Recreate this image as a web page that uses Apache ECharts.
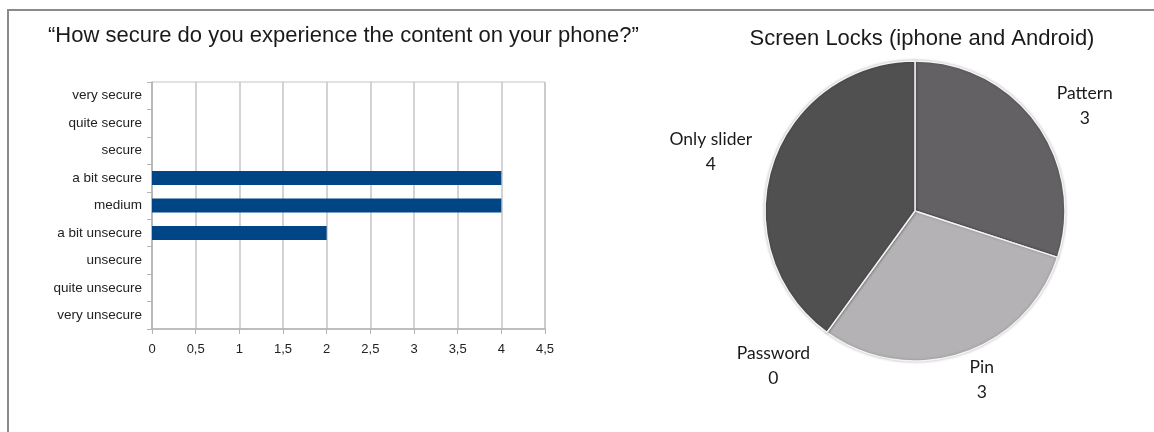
<!DOCTYPE html>
<html>
<head>
<meta charset="utf-8">
<script src="https://cdn.jsdelivr.net/npm/echarts@6/dist/echarts.min.js"></script>
<style>
  html, body { margin: 0; padding: 0; background: #fff; }
  #chart { width: 1154px; height: 432px; }
</style>
</head>
<body>
<div id="chart"></div>
<script>
// 左图：安全感问卷（自下而上）
const secureLevels = [
  'very unsecure', 'quite unsecure', 'unsecure', 'a bit unsecure',
  'medium', 'a bit secure', 'secure', 'quite secure', 'very secure',
];
const secureCounts = [0, 0, 0, 2, 4, 4, 0, 0, 0];
const xTicks = [0, 0.5, 1, 1.5, 2, 2.5, 3, 3.5, 4, 4.5];

// 右图：锁屏方式（从 12 点钟顺时针）
const lockNames = ['Pattern', 'Pin', 'Password', 'Only slider'];
const lockCounts = [3, 3, 0, 4];
const lockColors = ['#636164', '#b4b2b5', '#8a8a8a', '#505050'];

const leftTitle = '\u201cHow secure do you experience the content on your phone?\u201d';
const pieTitle = 'Screen Locks (iphone and Android)';

const PIE_CX = 915;
const PIE_CY = 211;
const PIE_R = 150;
const LABEL_R = 200;
// Excel 的 best-fit 标签并不严格在中线上，这里做少量微调
const LABEL_NUDGE = [[8, 12], [5, -21], [-24, -7], [-14, 3]];

const chart = echarts.init(document.getElementById('chart'), null, { renderer: 'canvas' });

const lockTotal = lockCounts.reduce((a, b) => a + b, 0);

// 标签放在扇区中线方向，居中对齐
function pieLabelPos(idx) {
  let before = 0;
  for (let i = 0; i < idx; i++) before += lockCounts[i];
  const mid = (before + lockCounts[idx] / 2) / lockTotal * Math.PI * 2;
  const nudge = LABEL_NUDGE[idx] || [0, 0];
  return {
    x: PIE_CX + Math.sin(mid) * LABEL_R + nudge[0],
    y: PIE_CY - Math.cos(mid) * LABEL_R + nudge[1],
  };
}

const option = {
  animation: false,
  backgroundColor: '#ffffff',
  textStyle: { fontFamily: 'Liberation Sans, Arial, sans-serif' },
  graphic: [
    {
      type: 'rect',
      shape: { x: 8, y: 10, width: 1160, height: 440 },
      style: { fill: 'none', stroke: '#8a8a8a', lineWidth: 2 },
      silent: true,
    },
    {
      type: 'text',
      x: 48,
      y: 36,
      style: {
        text: leftTitle,
        font: '22px "Liberation Sans", Arial, sans-serif',
        fill: '#1a1a1a',
        verticalAlign: 'middle',
      },
    },
    {
      type: 'text',
      x: 922,
      y: 39,
      style: {
        text: pieTitle,
        font: '22px "Liberation Sans", Arial, sans-serif',
        fill: '#1a1a1a',
        align: 'center',
        verticalAlign: 'middle',
      },
    },
  ],
  grid: {
    left: 152,
    top: 82,
    width: 393,
    height: 247,
    show: true,
    borderColor: '#c4c4c4',
    borderWidth: 1,
    containLabel: false,
  },
  xAxis: {
    type: 'value',
    min: xTicks[0],
    max: xTicks[xTicks.length - 1],
    interval: 0.5,
    axisLine: { show: true, lineStyle: { color: '#b3b3b3', width: 1.5 } },
    axisTick: { show: true, length: 5, lineStyle: { color: '#b3b3b3' } },
    splitLine: { show: true, lineStyle: { color: '#c4c4c4', width: 1.5 } },
    axisLabel: {
      color: '#222',
      fontSize: 13,
      margin: 14,
      formatter: (v) => String(v).replace('.', ','),
    },
  },
  yAxis: {
    type: 'category',
    data: secureLevels,
    boundaryGap: true,
    axisLine: { show: true, lineStyle: { color: '#b3b3b3', width: 1.5 } },
    axisTick: { show: true, length: 5, interval: 0, lineStyle: { color: '#b3b3b3' } },
    splitLine: { show: false },
    axisLabel: { color: '#222', fontSize: 13.5, margin: 10, interval: 0 },
  },
  series: [
    {
      type: 'bar',
      data: secureCounts,
      barWidth: 14,
      itemStyle: { color: '#004586' },
      silent: true,
    },
    {
      type: 'pie',
      center: [PIE_CX, PIE_CY],
      radius: PIE_R,
      startAngle: 90,
      clockwise: true,
      avoidLabelOverlap: false,
      silent: true,
      data: lockNames.map((name, i) => ({
        name,
        value: lockCounts[i],
        itemStyle: { color: lockColors[i] },
      })),
      itemStyle: {
        borderColor: '#f4f4f4',
        borderWidth: 1.5,
        shadowBlur: 3,
        shadowColor: 'rgba(0,0,0,0.25)',
      },
      label: {
        show: true,
        position: 'outside',
        formatter: '{n|{b}}\n{n|{c}}',
        rich: {
          n: {
            fontFamily: 'Lato, "Open Sans", sans-serif',
            fontSize: 17.5,
            lineHeight: 25,
            color: '#1a1a1a',
            align: 'center',
          },
        },
      },
      labelLine: { show: false },
      labelLayout: (params) => {
        const p = pieLabelPos(params.dataIndex);
        return { x: p.x, y: p.y, align: 'center', verticalAlign: 'middle' };
      },
    },
  ],
};

chart.setOption(option);
</script>
</body>
</html>
